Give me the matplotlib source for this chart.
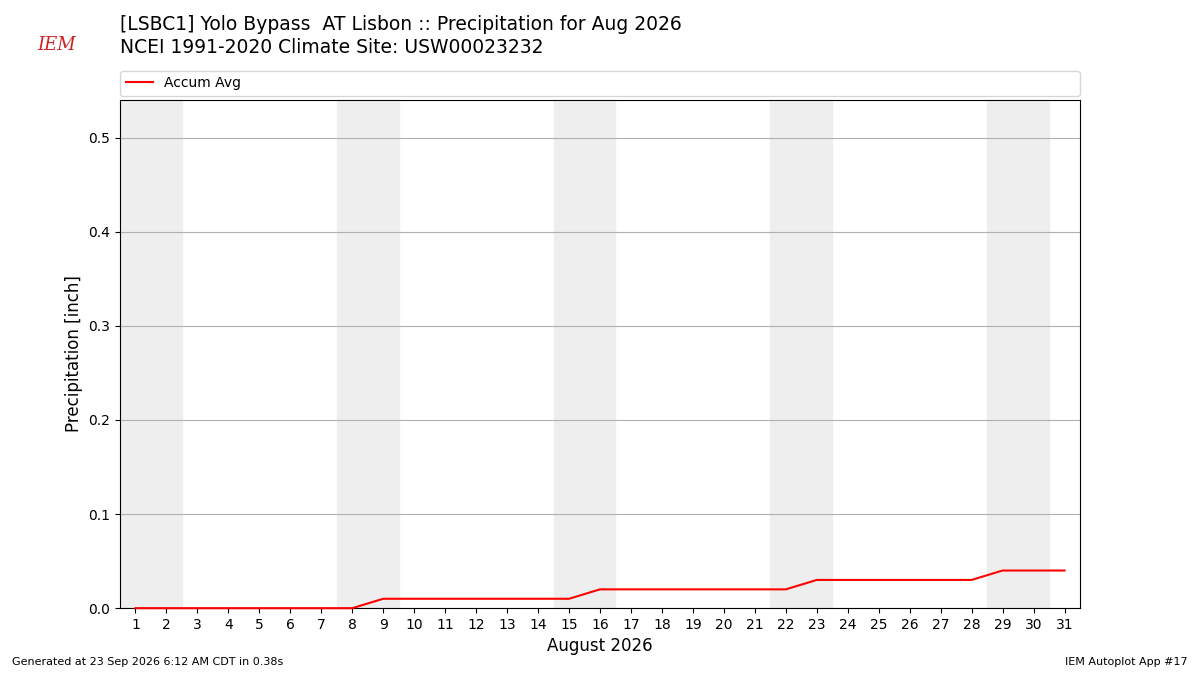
import matplotlib
matplotlib.use("Agg")
import matplotlib.pyplot as plt

# data
days = list(range(1, 32))
accum_avg = [0.00] * 8 + [0.01] * 7 + [0.02] * 7 + [0.03] * 6 + [0.04] * 3
weekend_starts = [1, 8, 15, 22, 29]

fig = plt.figure(figsize=(12, 6.75), dpi=100)
ax = fig.add_axes([0.1, 0.099, 0.8, 0.753])

for d in weekend_starts:
    ax.axvspan(d - 0.5, d + 1.5, color="#eeeeee", zorder=0)

ax.plot(days, accum_avg, color="red", label="Accum Avg", zorder=3, clip_on=False)

ax.set_xlim(0.5, 31.5)
ax.set_ylim(0, 0.54)
ax.set_xticks(days)
ax.set_yticks([0.0, 0.1, 0.2, 0.3, 0.4, 0.5])
ax.grid(axis="y", color="#b0b0b0", zorder=1)
ax.set_axisbelow(True)
ax.set_xlabel("August 2026", fontsize=12)
ax.set_ylabel("Precipitation [inch]", fontsize=12)

ax.legend(loc="lower left", bbox_to_anchor=(0, 1.008, 1, 0.05), mode="expand",
          ncol=1, fontsize=10, borderaxespad=0)

fig.text(0.1, 0.964, "[LSBC1] Yolo Bypass  AT Lisbon :: Precipitation for Aug 2026",
         fontsize=13.5, va="center")
fig.text(0.1, 0.929, "NCEI 1991-2020 Climate Site: USW00023232", fontsize=13.5, va="center")
fig.text(0.031, 0.933, "IEM", color="#cc2222", fontsize=13, style="italic",
         family="serif", va="center")
fig.text(0.01, 0.015, "Generated at 23 Sep 2026 6:12 AM CDT in 0.38s", fontsize=8)
fig.text(0.99, 0.015, "IEM Autoplot App #17", fontsize=8, ha="right")

fig.savefig("out.png", dpi=100)
